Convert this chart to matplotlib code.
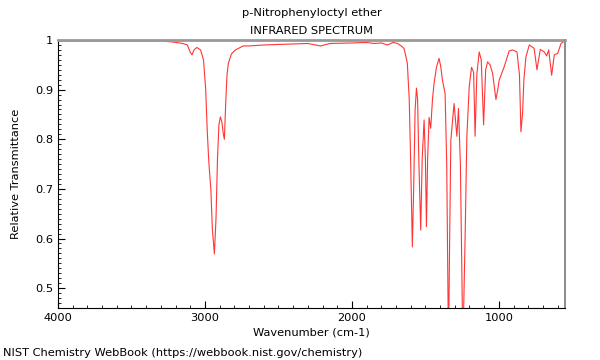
import matplotlib
matplotlib.use('Agg')
import matplotlib.pyplot as plt
from matplotlib.ticker import MultipleLocator, FuncFormatter

# Spectrum (wavenumber in cm-1, relative transmittance)
wavenumber = [
    4000, 3600, 3300, 3220, 3150, 3120, 3100, 3088, 3075, 3055, 3030, 3010,
    2995, 2985, 2975, 2968, 2960, 2950, 2936, 2925, 2915, 2905, 2895, 2885,
    2875, 2868, 2858, 2850, 2841, 2820, 2793, 2740, 2700, 2600, 2400, 2300,
    2214, 2150, 2000, 1900, 1850, 1800, 1759, 1720, 1690, 1660, 1646, 1635,
    1623, 1610, 1600, 1589, 1580, 1570, 1561, 1553, 1545, 1532, 1522, 1509,
    1500, 1493, 1485, 1475, 1464, 1452, 1441, 1425, 1407, 1395, 1384, 1366,
    1355, 1343, 1335, 1327, 1305, 1286, 1275, 1262, 1245, 1230, 1218, 1202,
    1186, 1172, 1162, 1150, 1134, 1120, 1104, 1090, 1077, 1060, 1043, 1020,
    1005, 998, 964, 930, 907, 877, 860, 850, 839, 830, 816, 793,
    760, 741, 718, 691, 675, 661, 641, 623, 600, 577, 550,
]
transmittance = [
    0.998, 0.998, 0.998, 0.996, 0.993, 0.990, 0.975, 0.970, 0.980, 0.985, 0.980, 0.960,
    0.900, 0.820, 0.760, 0.730, 0.700, 0.620, 0.569, 0.640, 0.760, 0.830, 0.845, 0.835,
    0.810, 0.800, 0.880, 0.930, 0.953, 0.972, 0.980, 0.988, 0.988, 0.990, 0.992, 0.993,
    0.988, 0.993, 0.994, 0.995, 0.993, 0.994, 0.990, 0.995, 0.993, 0.987, 0.983, 0.970,
    0.953, 0.880, 0.750, 0.583, 0.700, 0.860, 0.903, 0.880, 0.760, 0.617, 0.760, 0.839,
    0.760, 0.624, 0.760, 0.844, 0.822, 0.880, 0.913, 0.945, 0.963, 0.945, 0.919, 0.892,
    0.750, 0.380, 0.600, 0.798, 0.872, 0.806, 0.862, 0.750, 0.380, 0.600, 0.805, 0.906,
    0.945, 0.935, 0.806, 0.930, 0.976, 0.960, 0.829, 0.940, 0.956, 0.950, 0.933, 0.880,
    0.905, 0.919, 0.946, 0.978, 0.980, 0.976, 0.930, 0.815, 0.852, 0.920, 0.966, 0.990,
    0.983, 0.940, 0.981, 0.976, 0.968, 0.980, 0.929, 0.970, 0.973, 0.993, 0.999,
]

FS = 8.2

fig = plt.figure(figsize=(6, 3.6), dpi=100)
ax = fig.add_axes([0.0967, 0.1444, 0.845, 0.7445])

ax.plot(wavenumber, transmittance, color='#ff2020', linewidth=0.8, alpha=0.9)

ax.set_xlim(4000, 550)
ax.set_ylim(0.46, 1.0)

ax.xaxis.set_major_locator(MultipleLocator(1000))
ax.xaxis.set_minor_locator(MultipleLocator(100))
ax.yaxis.set_major_locator(MultipleLocator(0.1))
ax.yaxis.set_minor_locator(MultipleLocator(0.01))
ax.yaxis.set_major_formatter(FuncFormatter(lambda v, p: '1' if abs(v - 1) < 1e-6 else f'{v:.1f}'))

ax.tick_params(which='both', direction='in', top=False, right=False, labelsize=FS)
ax.tick_params(which='major', length=5)
ax.tick_params(which='minor', length=2.5)

ax.spines['top'].set_color('#999999')
ax.spines['top'].set_linewidth(2)
ax.spines['right'].set_color('#777777')
ax.spines['right'].set_linewidth(1.2)

ax.set_xlabel('Wavenumber (cm-1)', fontsize=FS, labelpad=3)
ax.set_ylabel('Relative Transmittance', fontsize=FS, labelpad=10)
ax.set_title('p-Nitrophenyloctyl ether\nINFRARED SPECTRUM', fontsize=FS, linespacing=2.0, pad=4)

fig.text(0.005, 0.01, 'NIST Chemistry WebBook (https://webbook.nist.gov/chemistry)', fontsize=FS)

fig.savefig('out.png', dpi=100)
